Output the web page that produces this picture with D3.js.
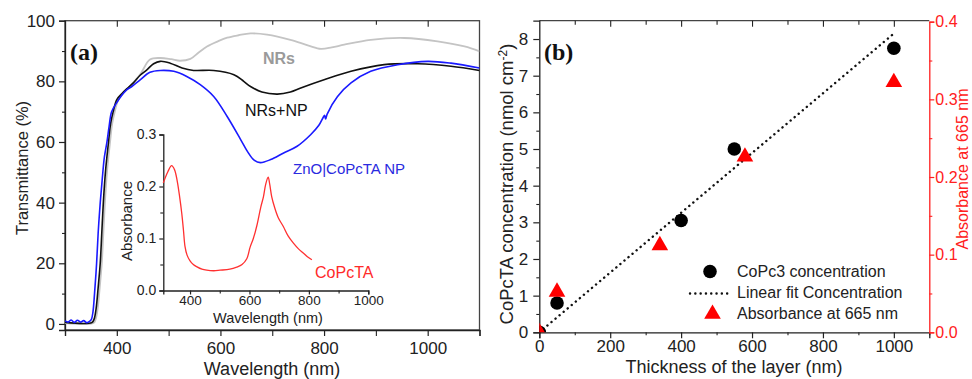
<!DOCTYPE html>
<html><head><meta charset="utf-8">
<script src="https://cdn.jsdelivr.net/npm/d3@7/dist/d3.min.js"></script>
<style>
body{margin:0;background:#fff;}
text{font-family:"Liberation Sans",Arial,sans-serif;}
</style></head>
<body><svg id="c" width="972" height="379"></svg>
<script>
// ---------- Panel (a) data: transmittance spectra [wavelength nm, T %] ----------
const nrsSeries = [[300,0.3],[355,0.3],[359,1.5],[363,5],[367,12],[371,20],[374,30],[377,40],[381,50],[387,60],[391,66],[396,70],[403,74],[412,76],[420,77.5],[433,79.8],[446,82.5],[464,87.2],[484,87.7],[505,87.3],[522,86.8],[542,87.4],[558,89.5],[574,91.5],[595,93.2],[613,94.4],[635,95.2],[658,95.8],[690,95.4],[735,93.7],[770,91.8],[794,90.7],[815,91.2],[839,92.1],[890,93.7],[955,94.3],[1019,93.2],[1071,91.5],[1100,89.9]];
const nrsNpSeries = [[300,0.5],[352,0.5],[356,1.5],[360,5],[364,12],[368,20],[371,30],[374,40],[378,50],[384,60],[388,66],[393,70],[400,74],[410,76],[419,77.5],[432,79.5],[445,82],[458,83.8],[471,85.8],[484,86.6],[503,86],[526,84.4],[548,83.6],[587,83.6],[626,82.2],[645,80],[658,78.3],[680,76.5],[710,75.8],[735,76.5],[755,77.8],[800,80.5],[852,83.3],[916,85.5],[981,85.8],[1045,85],[1100,83.6]];
const npSeries = [[300,1.0],[306,0.6],[312,1.3],[318,0.5],[324,1.2],[330,0.6],[336,1.1],[342,0.4],[348,0.9],[351,1.5],[354,4],[357,10],[361,20],[364,30],[368,40],[372,48],[376,55],[381,60],[385,65],[390,70],[400,73],[410,75.5],[419,77.2],[429,78.3],[445,80.5],[464,83],[484,83.6],[510,83.3],[535,81.6],[561,78.9],[587,75],[613,68.4],[639,60.8],[652,56.9],[665,54],[677,53.2],[697,54.2],[722,56.4],[748,58.6],[774,62.4],[790,65.5],[798,68],[801,68.8],[803,67.6],[806,69.2],[826,75],[852,79.5],[890,83.3],[942,85.5],[1000,86.6],[1045,86],[1100,84.4]];
// inset: CoPcTA absorbance [wavelength nm, A]
const copctaSeries = [[310,0.207],[325,0.228],[338,0.24],[348,0.232],[357,0.21],[365,0.18],[372,0.149],[378,0.115],[383,0.085],[390,0.068],[400,0.057],[411,0.05],[422,0.046],[440,0.041],[456,0.039],[480,0.038],[501,0.039],[534,0.041],[557,0.045],[575,0.05],[591,0.061],[602,0.083],[613,0.1],[625,0.125],[638,0.16],[647,0.18],[655,0.205],[663,0.218],[668,0.205],[675,0.18],[684,0.161],[697,0.14],[714,0.123],[730,0.105],[748,0.091],[765,0.08],[781,0.072],[795,0.065],[810,0.059]];
const xTicksA = [400,600,800,1000];
const yTicksA = [0,20,40,60,80,100];
const xTicksInset = [400,600,800,1000];
const yTicksInset = [0.0,0.1,0.2,0.3];

// ---------- Panel (b) data ----------
const thicknessConc = [0,50,400,550,1000];
const concValues = [0,0.8,3.05,5.0,7.75];
const thicknessAbs = [0,50,340,580,1000];
const absValues = [0,0.052,0.112,0.226,0.322];
const fitX = [0,1000];
const fitY = [0,8.15];
const xTicksB = [0,200,400,600,800,1000];
const yTicksB = [0,1,2,3,4,5,6,7,8];
const yTicksR = [0.0,0.1,0.2,0.3,0.4];

const svg = d3.select("#c");
const ink = "#222";
const fs = 17;

function styleAxis(g, color, size){
  g.selectAll("path.domain").attr("stroke", color).attr("stroke-width",1.3);
  g.selectAll(".tick line").attr("stroke", color).attr("stroke-width",1.2);
  g.selectAll(".tick text").attr("fill", color).style("font-size", size+"px").style("font-family","Liberation Sans, Arial, sans-serif");
}
function minorAxis(g, axisFn, scale, vals, size, color){
  const a = axisFn(scale).tickValues(vals).tickSize(size).tickFormat("");
  g.call(a);
  g.select("path.domain").remove();
  g.selectAll(".tick line").attr("stroke", color).attr("stroke-width",1.1);
}

// ================= Panel (a) =================
const xA = d3.scaleLinear().domain([300,1100]).range([65,479.5]);
const yA = d3.scaleLinear().domain([-2,100]).range([330,20.7]);

svg.append("defs").append("clipPath").attr("id","clipA")
  .append("rect").attr("x",65).attr("y",20.7).attr("width",414.5).attr("height",309.3);
svg.select("defs").append("clipPath").attr("id","clipB")
  .append("rect").attr("x",539.3).attr("y",20.7).attr("width",390).attr("height",311.6);

// frame
svg.append("rect").attr("x",65).attr("y",20.7).attr("width",414.5).attr("height",309.3)
  .attr("fill","none").attr("stroke","#444").attr("stroke-width",1.3);

// bottom axis
const gxA = svg.append("g").attr("transform","translate(0,330)")
  .call(d3.axisBottom(xA).tickValues(xTicksA).tickSize(6).tickPadding(6).tickFormat(d3.format("d")));
styleAxis(gxA, ink, fs);
minorAxis(svg.append("g").attr("transform","translate(0,330)"), d3.axisBottom, xA, [300,500,700,900,1100], 6, ink);
// top ticks inward
minorAxis(svg.append("g").attr("transform","translate(0,20.7)"), d3.axisBottom, xA, [400,600,800,1000], 6, ink);
minorAxis(svg.append("g").attr("transform","translate(0,20.7)"), d3.axisBottom, xA, [500,700,900], 4, ink);
// left axis
const gyA = svg.append("g").attr("transform","translate(65,0)")
  .call(d3.axisLeft(yA).tickValues(yTicksA).tickSize(6).tickPadding(4));
styleAxis(gyA, ink, fs);
minorAxis(svg.append("g").attr("transform","translate(65,0)"), d3.axisLeft, yA, [10,30,50,70,90], 3, ink);

// curves
const lineA = d3.line().x(d=>xA(d[0])).y(d=>yA(d[1])).curve(d3.curveCatmullRom.alpha(0.5));
const plotA = svg.append("g").attr("clip-path","url(#clipA)");
plotA.append("path").datum(nrsSeries).attr("d",lineA).attr("fill","none").attr("stroke","#c4c4c4").attr("stroke-width",1.8);
plotA.append("path").datum(nrsNpSeries).attr("d",lineA).attr("fill","none").attr("stroke","#111").attr("stroke-width",1.6);
plotA.append("path").datum(npSeries).attr("d",lineA).attr("fill","none").attr("stroke","#1a1aff").attr("stroke-width",1.6);

// labels in panel (a)
svg.append("text").attr("x",70).attr("y",60).text("(a)")
  .style("font-family","Liberation Serif, Times New Roman, serif").style("font-weight","bold").style("font-size","24px").attr("fill","#111");
svg.append("text").attr("x",263).attr("y",64).text("NRs").style("font-weight","bold").style("font-size","16px").attr("fill","#9a9a9a");
svg.append("text").attr("x",245).attr("y",116).text("NRs+NP").style("font-size","16px").attr("fill","#111");
svg.append("text").attr("x",293).attr("y",174).text("ZnO|CoPcTA NP").style("font-size","15px").attr("fill","#2a2ae0");
svg.append("text").attr("x",315).attr("y",278).text("CoPcTA").style("font-size","16px").attr("fill","#ff2a2a");

svg.append("text").attr("transform","translate(28,168) rotate(-90)").attr("text-anchor","middle")
  .text("Transmittance (%)").style("font-size","16.5px").attr("fill",ink);
svg.append("text").attr("x",272).attr("y",375).attr("text-anchor","middle")
  .text("Wavelength (nm)").style("font-size","18px").attr("fill",ink);

// ---- inset ----
const xI = d3.scaleLinear().domain([310,1000]).range([163.3,368.3]);
const yI = d3.scaleLinear().domain([0,0.3]).range([290.5,134.5]);
const gxI = svg.append("g").attr("transform","translate(0,290.5)")
  .call(d3.axisBottom(xI).tickValues(xTicksInset).tickSize(4).tickPadding(1).tickFormat(d3.format("d")));
styleAxis(gxI, ink, 13.5);
minorAxis(svg.append("g").attr("transform","translate(0,290.5)"), d3.axisBottom, xI, [500,700,900], 3, ink);
const gyI = svg.append("g").attr("transform","translate(163.3,0)")
  .call(d3.axisLeft(yI).tickValues(yTicksInset).tickSize(4).tickPadding(3).tickFormat(d3.format(".1f")));
styleAxis(gyI, ink, 14);
minorAxis(svg.append("g").attr("transform","translate(163.3,0)"), d3.axisLeft, yI, [0.05,0.15,0.25], 3, ink);
svg.append("text").attr("transform","translate(132,221) rotate(-90)").attr("text-anchor","middle")
  .text("Absorbance").style("font-size","15px").attr("fill",ink);
svg.append("text").attr("x",268).attr("y",323).attr("text-anchor","middle")
  .text("Wavelength  (nm)").style("font-size","14.5px").attr("fill",ink);
const lineI = d3.line().x(d=>xI(d[0])).y(d=>yI(d[1])).curve(d3.curveCatmullRom.alpha(0.5));
svg.append("path").datum(copctaSeries).attr("d",lineI).attr("fill","none").attr("stroke","#ff3030").attr("stroke-width",1.3);

// ================= Panel (b) =================
const xB = d3.scaleLinear().domain([0,1100]).range([539.3,929.3]);
const yB = d3.scaleLinear().domain([0,8.5]).range([332.3,20.7]);
const yR = d3.scaleLinear().domain([0,0.4]).range([332.3,21.7]);
const red = "#ff2020";

// top frame line
svg.append("line").attr("x1",539.3).attr("x2",929.3).attr("y1",20.7).attr("y2",20.7).attr("stroke","#444").attr("stroke-width",1.3);
const gxB = svg.append("g").attr("transform","translate(0,332.3)")
  .call(d3.axisBottom(xB).tickValues(xTicksB).tickSize(6).tickPadding(2).tickFormat(d3.format("d")));
styleAxis(gxB, ink, fs);
minorAxis(svg.append("g").attr("transform","translate(0,332.3)"), d3.axisBottom, xB, [100,300,500,700,900,1100], 3, ink);
minorAxis(svg.append("g").attr("transform","translate(0,20.7)"), d3.axisBottom, xB, [200,400,600,800,1000], 6, ink);
minorAxis(svg.append("g").attr("transform","translate(0,20.7)"), d3.axisBottom, xB, [100,300,500,700,900], 4, ink);
const gyB = svg.append("g").attr("transform","translate(539.3,0)")
  .call(d3.axisLeft(yB).tickValues(yTicksB).tickSize(6).tickPadding(5));
styleAxis(gyB, ink, fs);
minorAxis(svg.append("g").attr("transform","translate(539.3,0)"), d3.axisLeft, yB, [0.5,1.5,2.5,3.5,4.5,5.5,6.5,7.5], 3, ink);
const gyR = svg.append("g").attr("transform","translate(929.3,0)")
  .call(d3.axisRight(yR).tickValues(yTicksR).tickSize(5).tickPadding(1).tickFormat(d3.format(".1f")));
styleAxis(gyR, red, 16);
minorAxis(svg.append("g").attr("transform","translate(929.3,0)"), d3.axisRight, yR, [0.05,0.15,0.25,0.35], 3, red);

const plotB = svg.append("g").attr("clip-path","url(#clipB)");
// linear fit
plotB.append("path").datum(d3.zip(fitX, fitY))
  .attr("d", d3.line().x(d=>xB(d[0])).y(d=>yB(d[1])))
  .attr("fill","none").attr("stroke","#111").attr("stroke-width",2.4).attr("stroke-dasharray","0.1 5.2").attr("stroke-linecap","round");
// circles
plotB.selectAll("circle.c").data(d3.zip(thicknessConc, concValues)).join("circle")
  .attr("cx",d=>xB(d[0])).attr("cy",d=>yB(d[1])).attr("r",6.8).attr("fill","#000");
// triangles
const tri = d3.symbol().type(d3.symbolTriangle).size(120);
plotB.selectAll("path.t").data(d3.zip(thicknessAbs, absValues)).join("path")
  .attr("transform",d=>`translate(${xB(d[0])},${yR(d[1])})`).attr("d",tri).attr("fill","#ff0000");

// legend
svg.append("circle").attr("cx",710).attr("cy",271.5).attr("r",6.8).attr("fill","#000");
svg.append("line").attr("x1",690).attr("x2",731).attr("y1",293.5).attr("y2",293.5)
  .attr("stroke","#111").attr("stroke-width",2.4).attr("stroke-dasharray","0.1 5.2").attr("stroke-linecap","round");
svg.append("path").attr("transform","translate(712.5,314)").attr("d",tri).attr("fill","#ff0000");
const legendNames = ["CoPc3 concentration","Linear fit Concentration","Absorbance at 665 nm"];
svg.selectAll("text.leg").data(legendNames).join("text")
  .attr("x",737).attr("y",(d,i)=>277+i*21).text(d=>d).style("font-size","16px").attr("fill",ink);

svg.append("text").attr("x",544).attr("y",60).text("(b)")
  .style("font-family","Liberation Serif, Times New Roman, serif").style("font-weight","bold").style("font-size","24px").attr("fill","#111");

const yl = svg.append("text").attr("transform","translate(513,184) rotate(-90)").attr("text-anchor","middle")
  .style("font-size","18.5px").attr("fill",ink);
yl.append("tspan").text("CoPcTA concentration (nmol cm");
yl.append("tspan").attr("dy",-6).style("font-size","12px").text("-2");
yl.append("tspan").attr("dy",6).text(")");

svg.append("text").attr("transform","translate(968,169) rotate(-90)").attr("text-anchor","middle")
  .text("Absorbance at 665 nm").style("font-size","16px").attr("fill",red);
svg.append("text").attr("x",734).attr("y",373).attr("text-anchor","middle")
  .text("Thickness of the layer (nm)").style("font-size","18px").attr("fill",ink);
</script></body></html>
